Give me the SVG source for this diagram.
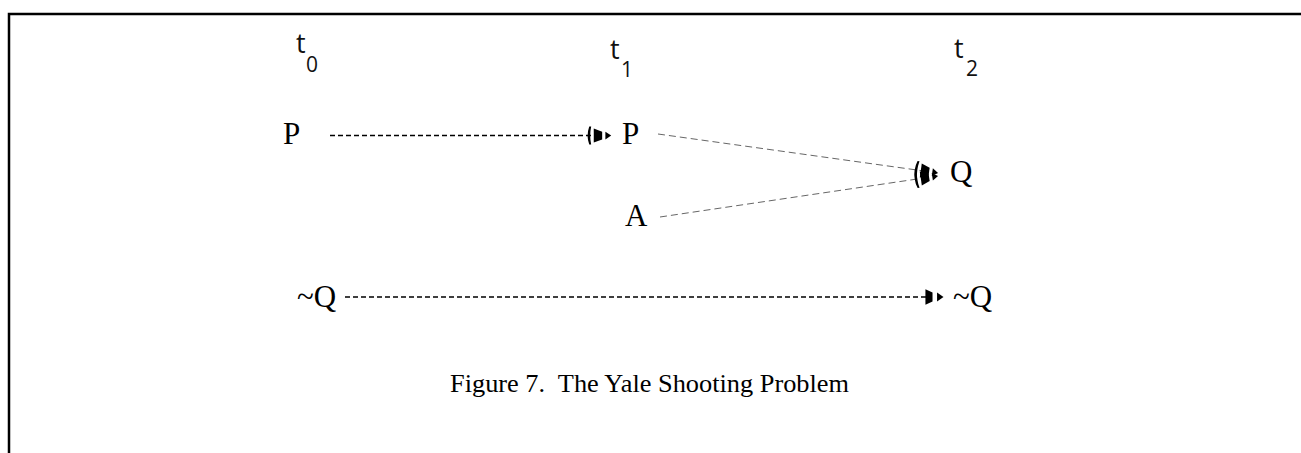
<svg xmlns="http://www.w3.org/2000/svg" width="1301" height="453" viewBox="0 0 1301 453">
<style>
.frame{fill:none;stroke:#000;stroke-width:2.5}
.time{font-family:"Open Sans","DejaVu Sans",sans-serif;font-size:27px;fill:#111}
.sub{font-family:"Open Sans","DejaVu Sans",sans-serif;font-size:21px;fill:#111}
.lbl{font-family:"Liberation Serif","Times New Roman",serif;font-size:31px;fill:#000}
.cap{font-family:"Liberation Serif","Times New Roman",serif;font-size:26px;fill:#000;white-space:pre}
.dash{fill:none;stroke:#000;stroke-width:1.4;stroke-dasharray:5 3}
.thin{fill:none;stroke:#555;stroke-width:0.9;stroke-dasharray:7 4}
.head{fill:#000}
</style>
<defs>
<marker id="arr" viewBox="-10 -8 24 16" refX="0" refY="0" markerWidth="31" markerHeight="21" markerUnits="userSpaceOnUse" orient="auto">
<path class="head" d="M-6,-7 Q-8.5,0 -6,7 L-4.5,7 Q-6,0 -4.5,-7 Z"/>
<path class="head" d="M-2.5,-5.5 L4,-3 L4,3 L-2.5,5.5 Z"/>
<path class="head" d="M6.5,-3 L11,0 L6.5,3 Z"/>
</marker>
<marker id="arr2" viewBox="-10 -8 24 16" refX="0" refY="0" markerWidth="31" markerHeight="21" markerUnits="userSpaceOnUse" orient="auto">
<path class="head" d="M-2,-6 L3.5,-3.5 L3.5,3.5 L-2,6 Z"/>
<path class="head" d="M7,-3.5 L12,0 L7,3.5 Z"/>
</marker>
</defs>
<path class="frame" d="M9,453 V14 H1301"/>
<g id="time-t0"><text class="time" x="296" y="53">t</text><text class="sub" x="306" y="72">0</text></g>
<g id="time-t1"><text class="time" x="610" y="59">t</text><text class="sub" x="621" y="77">1</text></g>
<g id="time-t2"><text class="time" x="954" y="58">t</text><text class="sub" x="966" y="76">2</text></g>
<g id="node-P0"><text class="lbl" x="283" y="144">P</text></g>
<g id="node-P1"><text class="lbl" x="622" y="144">P</text></g>
<g id="node-A"><text class="lbl" x="625" y="226">A</text></g>
<g id="node-Q"><text class="lbl" x="950" y="182">Q</text></g>
<g id="node-nQ0"><text class="lbl" x="297" y="307">~Q</text></g>
<g id="node-nQ2"><text class="lbl" x="953" y="307">~Q</text></g>
<g id="connectors">
<line class="dash" x1="330" y1="135.5" x2="597" y2="135.5" marker-end="url(#arr)"/>
<line class="thin" x1="658" y1="134" x2="924" y2="171" marker-end="url(#arr)"/>
<line class="thin" x1="660" y1="217" x2="924" y2="178" marker-end="url(#arr)"/>
<line class="dash" x1="345" y1="297" x2="928" y2="297" marker-end="url(#arr2)"/>
</g>
<g id="caption"><text class="cap" x="450" y="392" textLength="399" lengthAdjust="spacingAndGlyphs" xml:space="preserve">Figure 7.  The Yale Shooting Problem</text></g>
</svg>
